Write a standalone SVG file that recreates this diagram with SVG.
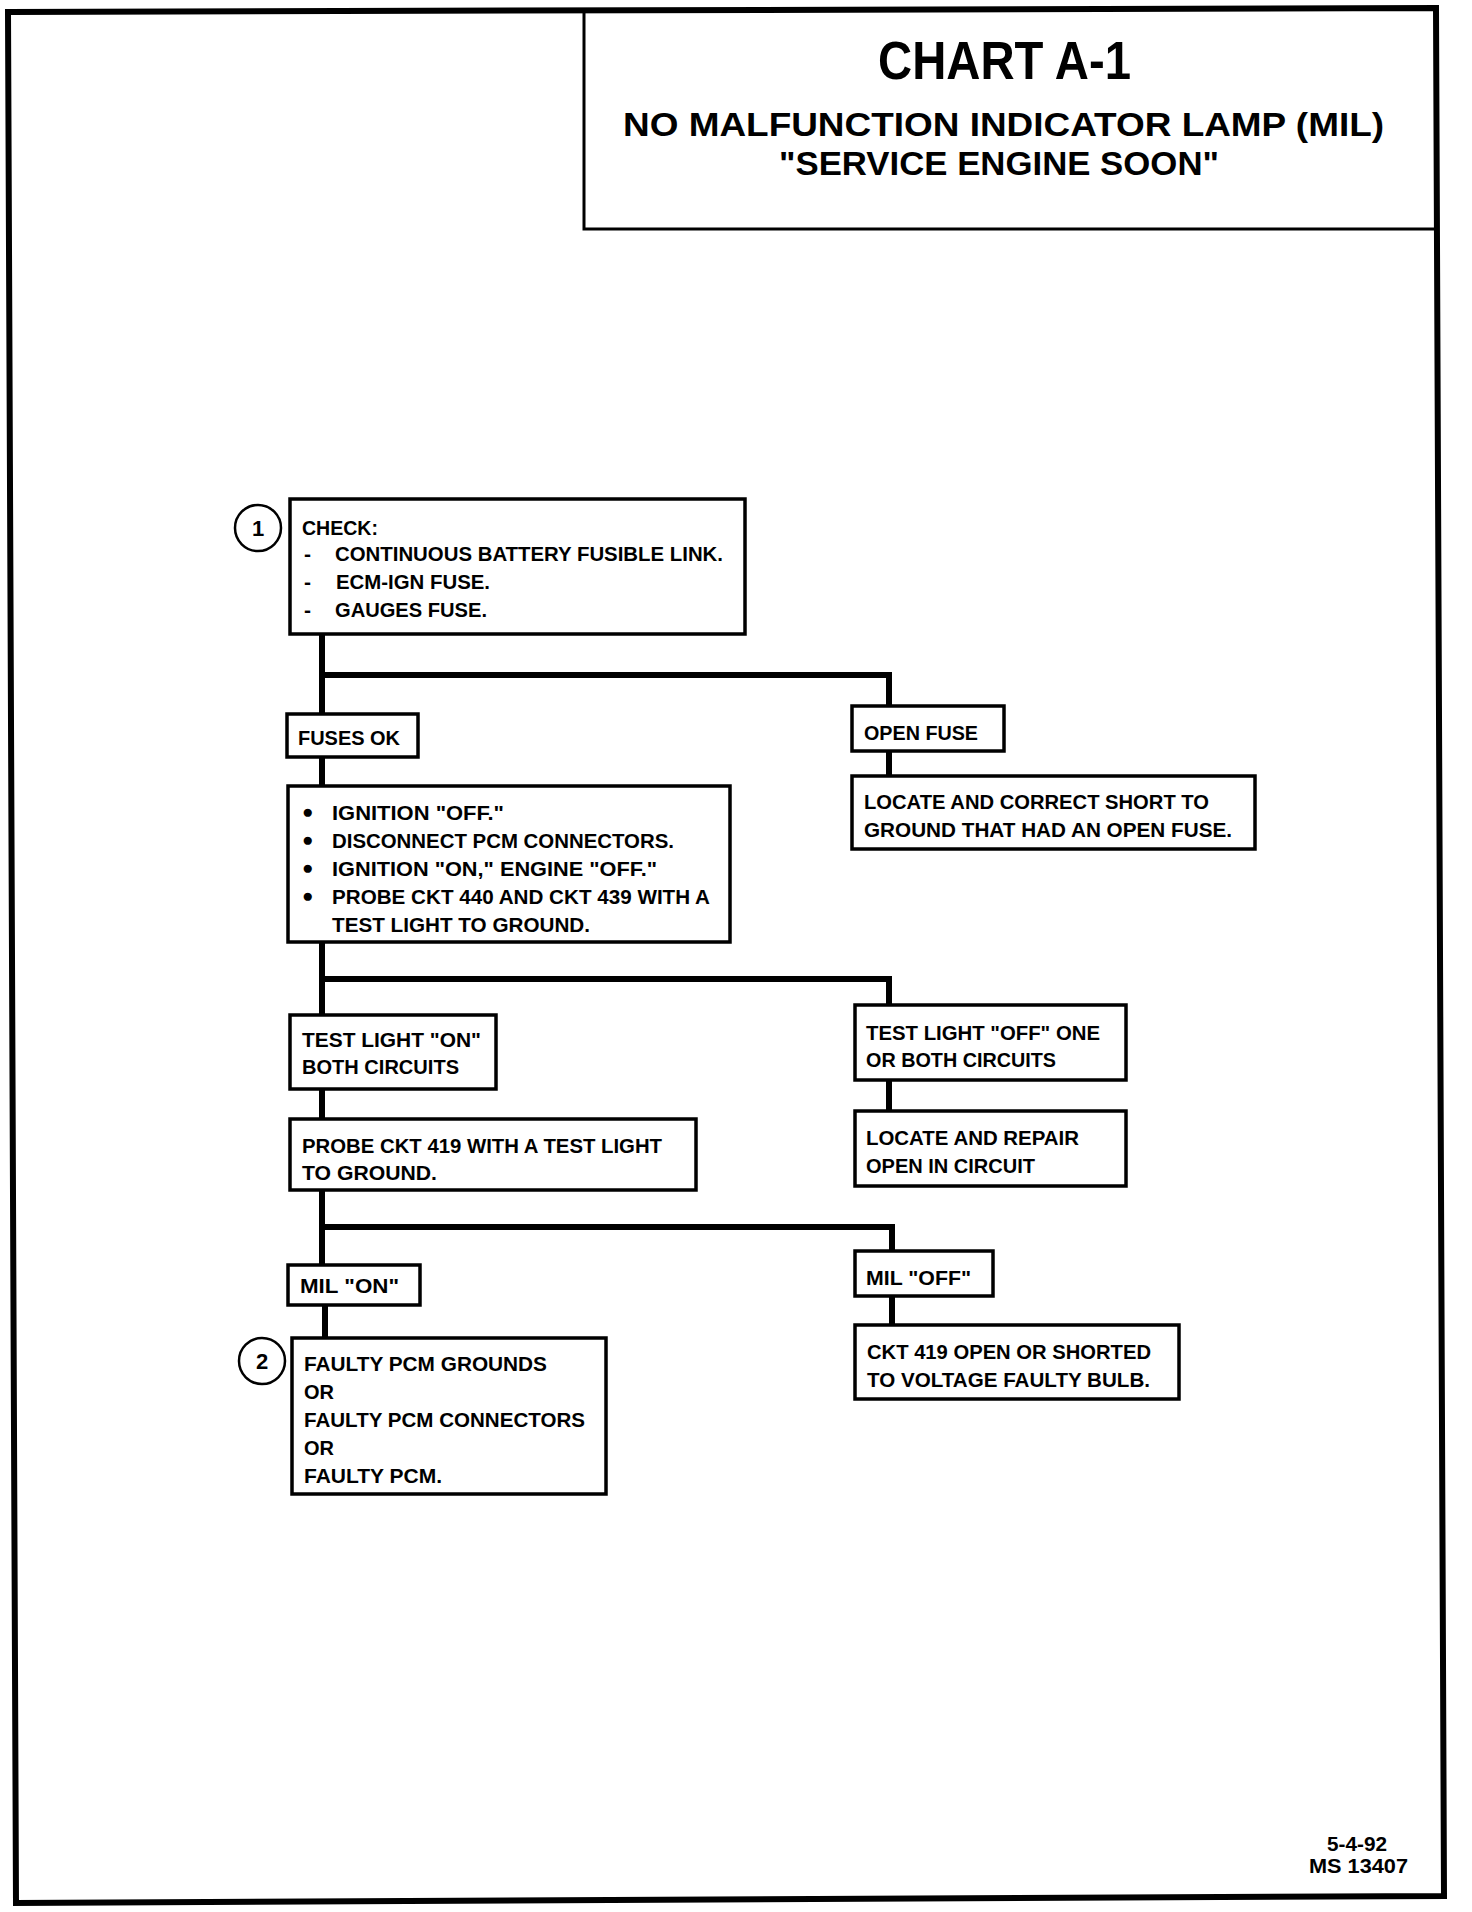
<svg xmlns="http://www.w3.org/2000/svg" width="1472" height="1912" viewBox="0 0 1472 1912">
<style>
.frame{fill:none;stroke:#000;stroke-width:6}
.box{fill:#fff;stroke:#000;stroke-width:3.5}
.conn{fill:none;stroke:#000;stroke-width:6;stroke-linecap:square}
.t{font-family:"Liberation Sans",Arial,sans-serif;font-weight:bold;font-size:21px;fill:#000}
.b{font-family:"Liberation Sans","DejaVu Sans",sans-serif;font-size:19px;fill:#000}
.h1{font-family:"Liberation Sans",Arial,sans-serif;font-weight:bold;font-size:54px;fill:#000}
.h2{font-family:"Liberation Sans",Arial,sans-serif;font-weight:bold;font-size:34px;fill:#000}
.num{font-family:"Liberation Sans",Arial,sans-serif;font-weight:bold;font-size:22px;fill:#000;text-anchor:middle}
.circ{fill:#fff;stroke:#000;stroke-width:2.5}
</style>
<rect width="1472" height="1912" fill="#fff"/>
<path class="frame" d="M8,12 L1436,8 L1444,1896 L16,1903 Z"/>
<g id="title">
<path fill="none" stroke="#000" stroke-width="3" d="M584,10 L584,229 L1437,229"/>
<text class="h1" x="878" y="79" textLength="253" lengthAdjust="spacingAndGlyphs">CHART A-1</text>
<text class="h2" x="623" y="136" textLength="761" lengthAdjust="spacingAndGlyphs">NO MALFUNCTION INDICATOR LAMP (MIL)</text>
<text class="h2" x="779" y="175" textLength="440" lengthAdjust="spacingAndGlyphs">"SERVICE ENGINE SOON"</text>
</g>
<g id="connectors">
<path class="conn" d="M322,634 L322,714 M322,675 L889,675 L889,706"/>
<path class="conn" d="M889,751 L889,776"/>
<path class="conn" d="M322,757 L322,786"/>
<path class="conn" d="M322,942 L322,1015 M322,979 L889,979 L889,1005"/>
<path class="conn" d="M889,1080 L889,1111"/>
<path class="conn" d="M322,1089 L322,1119"/>
<path class="conn" d="M322,1190 L322,1265 M322,1227 L892,1227 L892,1251"/>
<path class="conn" d="M325,1305 L325,1338"/>
<path class="conn" d="M892,1296 L892,1325"/>
</g>
<g id="marker1">
<circle class="circ" cx="258" cy="528" r="23"/>
<text class="num" x="258" y="536">1</text>
</g>
<g id="check">
<rect class="box" x="290" y="499" width="455" height="135"/>
<text class="t" x="302" y="535" textLength="76" lengthAdjust="spacingAndGlyphs">CHECK:</text>
<text class="t" x="304" y="561">-</text>
<text class="t" x="335" y="561" textLength="388" lengthAdjust="spacingAndGlyphs">CONTINUOUS BATTERY FUSIBLE LINK.</text>
<text class="t" x="304" y="589">-</text>
<text class="t" x="336" y="589" textLength="154" lengthAdjust="spacingAndGlyphs">ECM-IGN FUSE.</text>
<text class="t" x="304" y="617">-</text>
<text class="t" x="335" y="617" textLength="152" lengthAdjust="spacingAndGlyphs">GAUGES FUSE.</text>
</g>
<g id="fuses-ok">
<rect class="box" x="287" y="714" width="131" height="43"/>
<text class="t" x="298" y="745" textLength="102" lengthAdjust="spacingAndGlyphs">FUSES OK</text>
</g>
<g id="open-fuse">
<rect class="box" x="852" y="706" width="152" height="45"/>
<text class="t" x="864" y="740" textLength="114" lengthAdjust="spacingAndGlyphs">OPEN FUSE</text>
</g>
<g id="locate-short">
<rect class="box" x="852" y="776" width="403" height="73"/>
<text class="t" x="864" y="809" textLength="345" lengthAdjust="spacingAndGlyphs">LOCATE AND CORRECT SHORT TO</text>
<text class="t" x="864" y="837" textLength="368" lengthAdjust="spacingAndGlyphs">GROUND THAT HAD AN OPEN FUSE.</text>
</g>
<g id="ignition">
<rect class="box" x="288" y="786" width="442" height="156"/>
<text class="b" x="302" y="818">●</text>
<text class="t" x="332" y="820" textLength="172" lengthAdjust="spacingAndGlyphs">IGNITION "OFF."</text>
<text class="b" x="302" y="846">●</text>
<text class="t" x="332" y="848" textLength="342" lengthAdjust="spacingAndGlyphs">DISCONNECT PCM CONNECTORS.</text>
<text class="b" x="302" y="874">●</text>
<text class="t" x="332" y="876" textLength="325" lengthAdjust="spacingAndGlyphs">IGNITION "ON," ENGINE "OFF."</text>
<text class="b" x="302" y="902">●</text>
<text class="t" x="332" y="904" textLength="378" lengthAdjust="spacingAndGlyphs">PROBE CKT 440 AND CKT 439 WITH A</text>
<text class="t" x="332" y="932" textLength="258" lengthAdjust="spacingAndGlyphs">TEST LIGHT TO GROUND.</text>
</g>
<g id="test-on">
<rect class="box" x="290" y="1015" width="206" height="74"/>
<text class="t" x="302" y="1047" textLength="179" lengthAdjust="spacingAndGlyphs">TEST LIGHT "ON"</text>
<text class="t" x="302" y="1074" textLength="157" lengthAdjust="spacingAndGlyphs">BOTH CIRCUITS</text>
</g>
<g id="test-off">
<rect class="box" x="855" y="1005" width="271" height="75"/>
<text class="t" x="866" y="1040" textLength="234" lengthAdjust="spacingAndGlyphs">TEST LIGHT "OFF" ONE</text>
<text class="t" x="866" y="1067" textLength="190" lengthAdjust="spacingAndGlyphs">OR BOTH CIRCUITS</text>
</g>
<g id="locate-open">
<rect class="box" x="855" y="1111" width="271" height="75"/>
<text class="t" x="866" y="1145" textLength="213" lengthAdjust="spacingAndGlyphs">LOCATE AND REPAIR</text>
<text class="t" x="866" y="1173" textLength="169" lengthAdjust="spacingAndGlyphs">OPEN IN CIRCUIT</text>
</g>
<g id="probe419">
<rect class="box" x="290" y="1119" width="406" height="71"/>
<text class="t" x="302" y="1153" textLength="360" lengthAdjust="spacingAndGlyphs">PROBE CKT 419 WITH A TEST LIGHT</text>
<text class="t" x="302" y="1180" textLength="135" lengthAdjust="spacingAndGlyphs">TO GROUND.</text>
</g>
<g id="mil-on">
<rect class="box" x="288" y="1265" width="132" height="40"/>
<text class="t" x="300" y="1293" textLength="99" lengthAdjust="spacingAndGlyphs">MIL "ON"</text>
</g>
<g id="mil-off">
<rect class="box" x="855" y="1251" width="138" height="45"/>
<text class="t" x="866" y="1285" textLength="105" lengthAdjust="spacingAndGlyphs">MIL "OFF"</text>
</g>
<g id="marker2">
<circle class="circ" cx="262" cy="1361" r="23"/>
<text class="num" x="262" y="1369">2</text>
</g>
<g id="faulty">
<rect class="box" x="292" y="1338" width="314" height="156"/>
<text class="t" x="304" y="1371" textLength="243" lengthAdjust="spacingAndGlyphs">FAULTY PCM GROUNDS</text>
<text class="t" x="304" y="1399" textLength="30" lengthAdjust="spacingAndGlyphs">OR</text>
<text class="t" x="304" y="1427" textLength="281" lengthAdjust="spacingAndGlyphs">FAULTY PCM CONNECTORS</text>
<text class="t" x="304" y="1455" textLength="30" lengthAdjust="spacingAndGlyphs">OR</text>
<text class="t" x="304" y="1483" textLength="138" lengthAdjust="spacingAndGlyphs">FAULTY PCM.</text>
</g>
<g id="ckt419">
<rect class="box" x="855" y="1325" width="324" height="74"/>
<text class="t" x="867" y="1359" textLength="284" lengthAdjust="spacingAndGlyphs">CKT 419 OPEN OR SHORTED</text>
<text class="t" x="867" y="1387" textLength="283" lengthAdjust="spacingAndGlyphs">TO VOLTAGE FAULTY BULB.</text>
</g>
<g id="footer">
<text class="t" x="1327" y="1851" textLength="60" lengthAdjust="spacingAndGlyphs">5-4-92</text>
<text class="t" x="1309" y="1873" textLength="99" lengthAdjust="spacingAndGlyphs">MS 13407</text>
</g>
</svg>
